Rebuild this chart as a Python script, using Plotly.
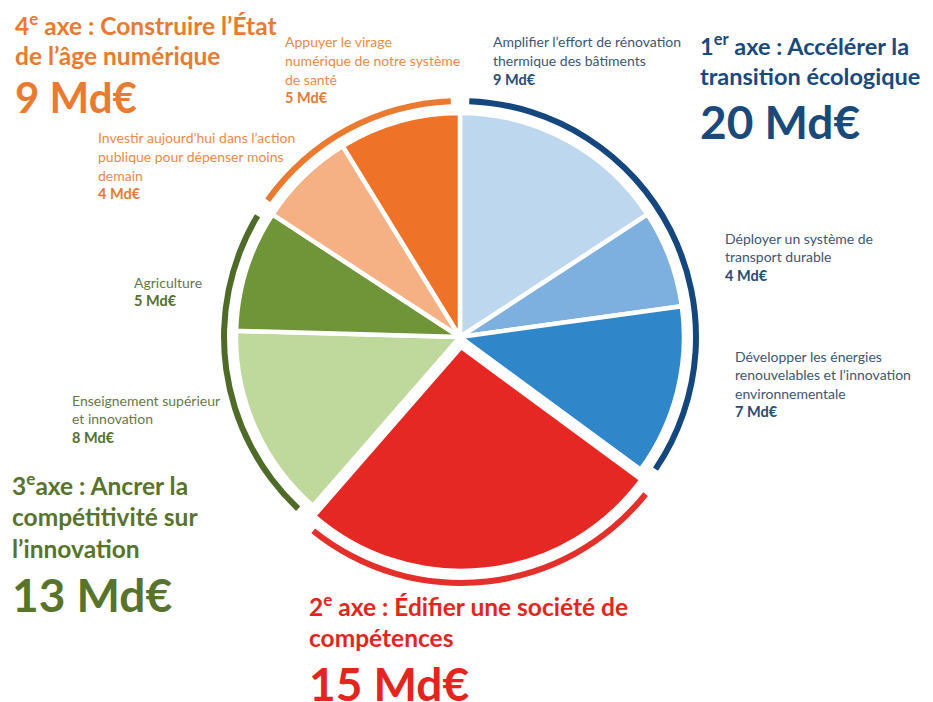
import plotly.graph_objects as go

W, H = 933, 702
FONT = "Lato"
PAGE_OFFSET = 8  # default body margin of the html page

# --- data -------------------------------------------------------------
slice_labels = [
    ["Amplifier l’effort de rénovation", "thermique des bâtiments"],
    ["Déployer un système de", "transport durable"],
    ["Développer les énergies", "renouvelables et l’innovation", "environnementale"],
    ["Édifier une société de compétences"],
    ["Enseignement supérieur", "et innovation"],
    ["Agriculture"],
    ["Investir aujourd’hui dans l’action", "publique pour dépenser moins", "demain"],
    ["Appuyer le virage", "numérique de notre système", "de santé"],
]
slice_values = [9, 4, 7, 15, 8, 5, 4, 5]
slice_colors = ["#BDD7EE", "#7DB0DE", "#2F86C8", "#E52823",
                "#BFD89B", "#6F9538", "#F5B183", "#EE7328"]
slice_axis = [0, 0, 0, 1, 2, 2, 3, 3]

axis_titles = [
    ["1<sup>er</sup> axe : Accélérer la", "transition écologique"],
    ["2<sup>e</sup> axe : Édifier une société de", "compétences"],
    ["3<sup>e</sup>axe : Ancrer la", "compétitivité sur", "l’innovation"],
    ["4<sup>e</sup> axe : Construire l’État", "de l’âge numérique"],
]
axis_totals = [20, 15, 13, 9]
axis_colors = ["#1A4A7C", "#E2261E", "#58742C", "#EA7A2F"]
arc_colors = ["#14477E", "#E3302A", "#4F6B28", "#EB7A30"]
label_colors = ["#3D5672", "#E2261E", "#64794A", "#E98A4B"]
amount_colors = ["#254C74", "#E2261E", "#55702F", "#E27A38"]

# --- layout parameters (pixels in the 933x702 picture) -----------------
cx, cy = 460, 337
r_pie = 224
r_arc_out, r_arc_in = 239, 233
pull_px = 10
pulled_axis = 1
gap_deg = 4.5

# label blocks: left x, first-line centre y
slice_pos = {0: (491, 42), 1: (723, 238), 2: (733, 356),
             4: (70, 400), 5: (132, 282), 6: (96, 138), 7: (283, 42)}
small_step = 18.6
small_size = 14

axis_pos = [(698, 44, 122), (307, 605, 683), (10, 484, 594), (13, 24, 97)]
title_step = 32
title_sizes = [23.5, 24.5, 24.5, 24.5]
amount_sizes = [46, 46, 46, 42]


def px_x(x):
    return (x - PAGE_OFFSET) / W


def px_y(y):
    return 1 - (y - PAGE_OFFSET) / H


fig = go.Figure()

# main pie
total = sum(slice_values)
pb = r_pie + pull_px
fig.add_trace(go.Pie(
    labels=[" ".join(l) for l in slice_labels],
    values=slice_values,
    sort=False,
    direction="clockwise",
    rotation=0,
    marker=dict(colors=slice_colors, line=dict(color="white", width=4.5)),
    pull=[pull_px / r_pie if a == pulled_axis else 0 for a in slice_axis],
    textinfo="none",
    hoverinfo="skip",
    showlegend=False,
    domain=dict(x=[px_x(cx - pb), px_x(cx + pb)],
                y=[px_y(cy + pb), px_y(cy - pb)]),
))

# outer arcs, one per axis, with transparent gaps between them
gap = total * gap_deg / 360
arc_vals, arc_cols, arc_pull, arc_labels = [gap / 2], ["rgba(0,0,0,0)"], [0], ["g0"]
for i, t in enumerate(axis_totals):
    arc_vals.append(t - gap)
    arc_cols.append(arc_colors[i])
    arc_pull.append(pull_px / r_arc_out if i == pulled_axis else 0)
    arc_labels.append(f"a{i}")
    arc_vals.append(gap if i < len(axis_totals) - 1 else gap / 2)
    arc_cols.append("rgba(0,0,0,0)")
    arc_pull.append(0)
    arc_labels.append(f"g{i + 1}")

ab = r_arc_out + pull_px
fig.add_trace(go.Pie(
    labels=arc_labels,
    values=arc_vals,
    sort=False,
    direction="clockwise",
    rotation=0,
    hole=r_arc_in / r_arc_out,
    marker=dict(colors=arc_cols, line=dict(width=0)),
    pull=arc_pull,
    textinfo="none",
    hoverinfo="skip",
    showlegend=False,
    domain=dict(x=[px_x(cx - ab), px_x(cx + ab)],
                y=[px_y(cy + ab), px_y(cy - ab)]),
))


def add_text(x, y, text, size, color, bold=False):
    fig.add_annotation(
        x=px_x(x), y=px_y(y), xref="paper", yref="paper",
        text=text, showarrow=False, xanchor="left", yanchor="middle",
        font=dict(family=FONT, size=size, color=color,
                  weight="bold" if bold else "normal"),
    )


# slice labels
for i, lines in enumerate(slice_labels):
    if i not in slice_pos:
        continue
    x0, y0 = slice_pos[i]
    a = slice_axis[i]
    for k, line in enumerate(lines):
        add_text(x0, y0 + k * small_step, line, small_size, label_colors[a])
    add_text(x0, y0 + len(lines) * small_step, f"{slice_values[i]} Md€",
             small_size + 0.5, amount_colors[a], bold=True)

# axis titles
for i, lines in enumerate(axis_titles):
    x0, y0, ya = axis_pos[i]
    for k, line in enumerate(lines):
        add_text(x0, y0 + k * title_step, line, title_sizes[i], axis_colors[i], bold=True)
    add_text(x0, ya, f"{axis_totals[i]} Md€", amount_sizes[i], axis_colors[i], bold=True)

fig.update_layout(
    width=W, height=H,
    margin=dict(l=0, r=0, t=0, b=0),
    paper_bgcolor="white",
    plot_bgcolor="white",
)
fig.write_html("out.html")
